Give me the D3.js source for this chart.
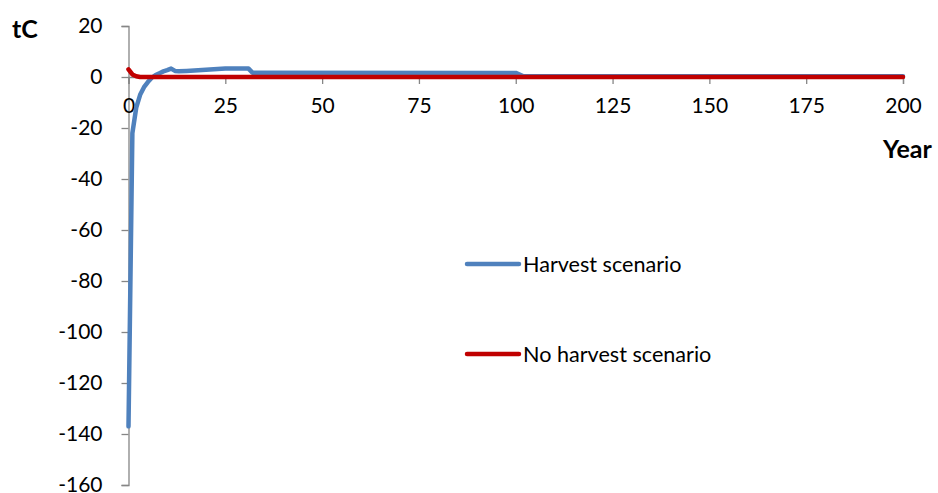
<!DOCTYPE html>
<html><head><meta charset="utf-8">
<script src="https://cdn.jsdelivr.net/npm/d3@7"></script>
<style>body{margin:0;background:#fff}svg{display:block}text{font-family:Lato,"Open Sans",sans-serif}</style>
</head><body><svg id="c" width="938" height="493"></svg>
<script>
const harvestYears  = [0, 1, 2, 3, 4, 5, 6, 7, 8, 9, 10, 11, 12, 13, 15, 20, 25, 31, 32, 100, 102, 200];
const harvestValues = [-137, -22, -12, -7, -4, -2, -0.3, 0.8, 1.5, 2.2, 2.7, 3.3, 2.4, 2.3, 2.4, 2.8, 3.3, 3.3, 1.7, 1.6, 0.3, 0.3];
const noHarvestYears  = [0, 1, 2, 3, 200];
const noHarvestValues = [3, 1, 0.3, 0, 0];
const xTicks = [0, 25, 50, 75, 100, 125, 150, 175, 200];
const yTicks = [20, 0, -20, -40, -60, -80, -100, -120, -140, -160];
const seriesNames = ["Harvest scenario", "No harvest scenario"];
const colors = ["#4F81BD", "#C00000"];

const svg = d3.select("#c");
const x = d3.scaleLinear().domain([0, 200]).range([128.5, 903]);
const y = d3.scaleLinear().domain([-160, 20]).range([485, 26]);
const axisColor = "#868686";
const fs = 21;

// y axis
const ya = svg.append("g").attr("transform", `translate(${x(0)},0)`)
  .call(d3.axisLeft(y).tickValues(yTicks).tickSize(7).tickPadding(19).tickFormat(d3.format("d")));
ya.select(".domain").attr("stroke", axisColor).attr("stroke-width", 1.3);
ya.selectAll(".tick line").attr("stroke", axisColor).attr("stroke-width", 1.3);
ya.selectAll("text").attr("font-size", fs).attr("fill", "#000").attr("font-family", "Lato")
  .text(d => d < 0 ? "-" + Math.abs(d) : d);

// x axis at y=0
const xa = svg.append("g").attr("transform", `translate(0,${y(0)})`)
  .call(d3.axisBottom(x).tickValues(xTicks).tickSize(7).tickPadding(14).tickFormat(d3.format("d")));
xa.select(".domain").attr("stroke", axisColor).attr("stroke-width", 1.3);
xa.selectAll(".tick line").attr("stroke", axisColor).attr("stroke-width", 1.3);
xa.selectAll("text").attr("font-size", fs).attr("fill", "#000").attr("font-family", "Lato");

// lines
const line = d3.line().x(d => x(d[0])).y(d => y(d[1]));
const hData = harvestYears.map((v, i) => [v, harvestValues[i]]);
const nData = noHarvestYears.map((v, i) => [v, noHarvestValues[i]]);
svg.append("path").datum(hData).attr("d", line).attr("fill", "none")
  .attr("stroke", colors[0]).attr("stroke-width", 4.5).attr("stroke-linejoin", "round").attr("stroke-linecap", "round");
svg.append("path").datum(nData).attr("d", line).attr("fill", "none")
  .attr("stroke", colors[1]).attr("stroke-width", 4.5).attr("stroke-linejoin", "round").attr("stroke-linecap", "round");

// axis titles
svg.append("text").attr("x", 12).attr("y", 38).attr("font-size", 25).attr("font-weight", "bold").text("tC");
svg.append("text").attr("x", 883).attr("y", 158).attr("font-size", 25).attr("font-weight", "bold").text("Year");

// legend
const ly = [264, 354];
seriesNames.forEach((n, i) => {
  svg.append("line").attr("x1", 467).attr("x2", 519).attr("y1", ly[i]).attr("y2", ly[i])
    .attr("stroke", colors[i]).attr("stroke-width", 4.5).attr("stroke-linecap", "round");
  svg.append("text").attr("x", 523).attr("y", ly[i] + 8).attr("font-size", 21.6).text(n);
});
</script></body></html>
